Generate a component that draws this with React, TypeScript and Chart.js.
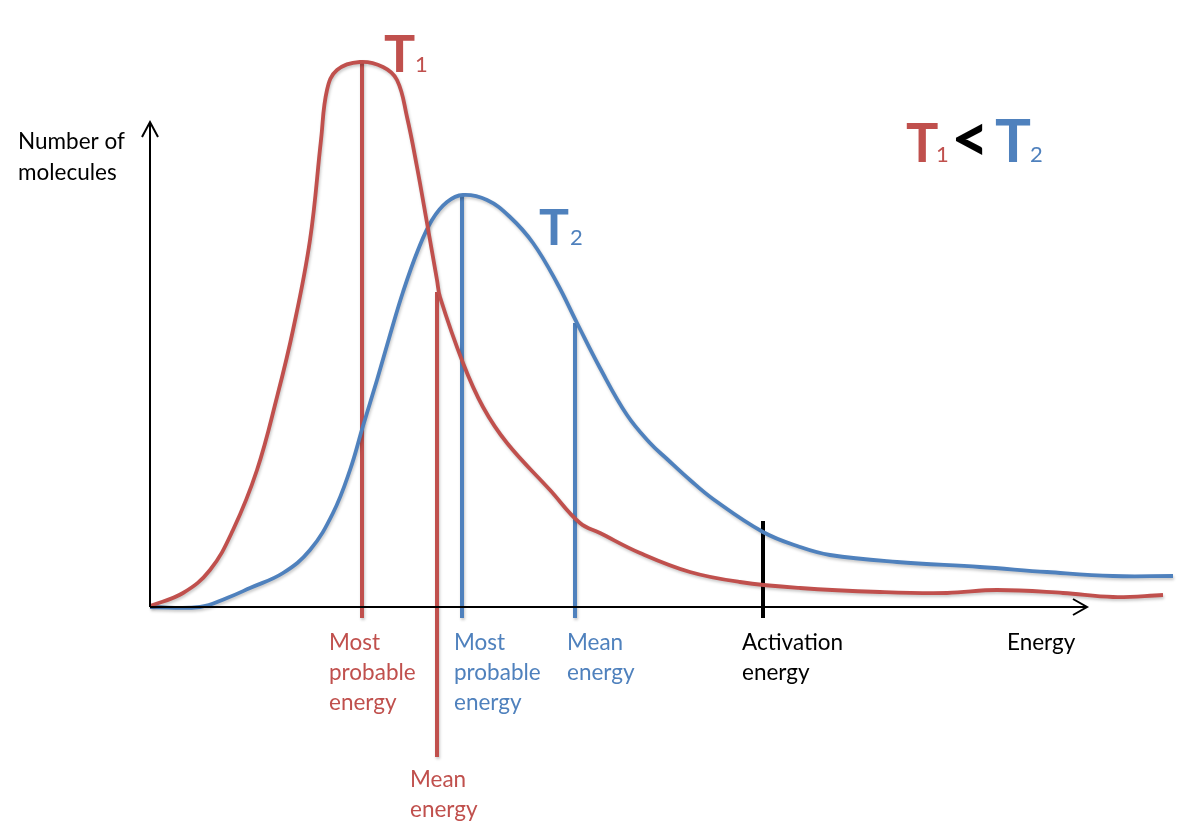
import React, { useEffect, useRef } from "react";
import { Chart, registerables } from "chart.js";

Chart.register(...registerables);

// Energy (x) and number of molecules (y), in chart units
const t1Energy = [0, 33, 60, 83, 107, 127, 143, 160, 171, 177, 187, 210, 233, 247, 257, 267, 277, 287, 290, 313, 333, 357, 400, 430, 450, 490, 540, 590, 650, 730, 797, 847, 913, 963, 1013];
const t1Count = [1, 14, 37, 77, 137, 210, 277, 367, 467, 517, 537, 545, 540, 527, 490, 440, 384, 327, 310, 244, 200, 164, 117, 84, 74, 54, 35, 25, 19, 15, 14, 17, 14, 10, 12];

const t2Energy = [0, 50, 77, 100, 133, 160, 183, 200, 213, 227, 240, 253, 268, 282, 297, 313, 337, 360, 383, 407, 427, 450, 477, 500, 517, 540, 563, 613, 650, 680, 747, 830, 897, 963, 1023];
const t2Count = [0, 0, 9, 19, 34, 57, 94, 137, 181, 227, 272, 315, 357, 387, 405, 412, 407, 390, 364, 324, 284, 239, 192, 164, 148, 127, 108, 75, 60, 52, 45, 40, 35, 31, 31];

// Marker energies and their line extents
const markerNames = ["T1 most probable", "T1 mean", "T2 most probable", "T2 mean", "Activation energy"];
const markerEnergy = [212, 287, 312, 425, 613];
const markerLow = [-11, -150, -11, -11, -11];
const markerHigh = [545, 315, 412, 284, 86];

// Axes
const yAxisTop = 485;
const xAxisEnd = 937;

const RED = "#C0504D";
const BLUE = "#4F81BD";
const BLACK = "#000000";
const FONT = "Lato, 'Open Sans', sans-serif";

type Txt = { t: string; x: number; y: number; c: string; f: string };

const labels: Txt[] = [
  { t: "Number of", x: -132, y: 458, c: BLACK, f: `22.5px ${FONT}` },
  { t: "molecules", x: -132, y: 427, c: BLACK, f: `22.5px ${FONT}` },
  { t: "Most", x: 179, y: -43, c: RED, f: `22.5px ${FONT}` },
  { t: "probable", x: 179, y: -73, c: RED, f: `22.5px ${FONT}` },
  { t: "energy", x: 179, y: -103, c: RED, f: `22.5px ${FONT}` },
  { t: "Mean", x: 260, y: -180, c: RED, f: `22.5px ${FONT}` },
  { t: "energy", x: 260, y: -210, c: RED, f: `22.5px ${FONT}` },
  { t: "Most", x: 304, y: -43, c: BLUE, f: `22.5px ${FONT}` },
  { t: "probable", x: 304, y: -73, c: BLUE, f: `22.5px ${FONT}` },
  { t: "energy", x: 304, y: -103, c: BLUE, f: `22.5px ${FONT}` },
  { t: "Mean", x: 417, y: -43, c: BLUE, f: `22.5px ${FONT}` },
  { t: "energy", x: 417, y: -73, c: BLUE, f: `22.5px ${FONT}` },
  { t: "Activation", x: 592, y: -43, c: BLACK, f: `22.5px ${FONT}` },
  { t: "energy", x: 592, y: -73, c: BLACK, f: `22.5px ${FONT}` },
  { t: "Energy", x: 857, y: -43, c: BLACK, f: `22.5px ${FONT}` },
  // curve names
  { t: "T", x: 234, y: 535, c: RED, f: `bold 52px ${FONT}` },
  { t: "1", x: 265, y: 535, c: RED, f: `22px ${FONT}` },
  { t: "T", x: 389, y: 362, c: BLUE, f: `bold 50px ${FONT}` },
  { t: "2", x: 420, y: 362, c: BLUE, f: `22px ${FONT}` },
  // T1 < T2
  { t: "T", x: 756, y: 445, c: RED, f: `bold 54px ${FONT}` },
  { t: "1", x: 786, y: 445, c: RED, f: `22px ${FONT}` },
  { t: "<", x: 801, y: 445, c: BLACK, f: `bold 66px ${FONT}` },
  { t: "T", x: 845, y: 445, c: BLUE, f: `bold 60px ${FONT}` },
  { t: "2", x: 880, y: 445, c: BLUE, f: `22px ${FONT}` },
];

const pts = (xs: number[], ys: number[]) => xs.map((x, i) => ({ x, y: ys[i] }));

const shadowPlugin = {
  id: "softShadow",
  beforeDatasetDraw(chart: any, args: any) {
    const ds = chart.data.datasets[args.index] as any;
    if (ds.shadow) {
      const ctx = chart.ctx;
      ctx.save();
      ctx.shadowColor = "rgba(0,0,0,0.22)";
      ctx.shadowBlur = 3;
      ctx.shadowOffsetX = 1;
      ctx.shadowOffsetY = 2;
    }
  },
  afterDatasetDraw(chart: any, args: any) {
    const ds = chart.data.datasets[args.index] as any;
    if (ds.shadow) chart.ctx.restore();
  },
};

const textPlugin = {
  id: "texts",
  afterDraw(chart: any) {
    const ctx = chart.ctx;
    const xs = chart.scales.x;
    const ys = chart.scales.y;
    ctx.save();
    ctx.textAlign = "left";
    ctx.textBaseline = "alphabetic";
    for (const l of labels) {
      ctx.font = l.f;
      ctx.fillStyle = l.c;
      ctx.fillText(l.t, xs.getPixelForValue(l.x), ys.getPixelForValue(l.y));
    }
    ctx.restore();
  },
};

export default function App() {
  const ref = useRef<HTMLCanvasElement>(null);
  useEffect(() => {
    if (!ref.current) return;
    const line = (data: any[], color: string, width: number, extra: any = {}) => ({
      data,
      borderColor: color,
      backgroundColor: color,
      borderWidth: width,
      pointRadius: 0,
      showLine: true,
      fill: false,
      tension: 0,
      borderCapStyle: "butt",
      borderJoinStyle: "round",
      ...extra,
    });
    const markerColors = [RED, RED, BLUE, BLUE, BLACK];
    const datasets: any[] = [
      // axes
      line([{ x: 0, y: 0 }, { x: 0, y: yAxisTop }], BLACK, 2),
      line([{ x: -8, y: yAxisTop - 15 }, { x: 0, y: yAxisTop }, { x: 8, y: yAxisTop - 15 }], BLACK, 2, { borderJoinStyle: "miter" }),
      line([{ x: 0, y: 0 }, { x: xAxisEnd, y: 0 }], BLACK, 2),
      line([{ x: xAxisEnd - 14, y: 8 }, { x: xAxisEnd, y: 0 }, { x: xAxisEnd - 14, y: -8 }], BLACK, 2, { borderJoinStyle: "miter" }),
      // curves
      line(pts(t1Energy, t1Count), RED, 3.8, { tension: 0.4, shadow: true, label: "T1" }),
      line(pts(t2Energy, t2Count), BLUE, 3.8, { tension: 0.4, shadow: true, label: "T2" }),
    ];
    markerEnergy.forEach((e, i) => {
      datasets.push(
        line(
          [{ x: e, y: markerLow[i] }, { x: e, y: markerHigh[i] }],
          markerColors[i],
          4,
          { shadow: i < 4, label: markerNames[i] }
        )
      );
    });
    const chart = new Chart(ref.current, {
      type: "scatter",
      data: { datasets },
      options: {
        animation: false,
        responsive: false,
        devicePixelRatio: 1,
        layout: { padding: 0, autoPadding: false } as any,
        plugins: { legend: { display: false }, tooltip: { enabled: false } },
        events: [],
        datasets: { scatter: { clip: false } as any },
        scales: {
          x: { type: "linear", min: -150, max: 1031, display: false },
          y: { type: "linear", min: -232, max: 607, display: false },
        },
      },
      plugins: [shadowPlugin, textPlugin],
    });
    return () => chart.destroy();
  }, []);
  return (
    <div style={{ position: "fixed", left: 0, top: 0, width: 1181, height: 839, background: "#fff" }}>
      <canvas ref={ref} width={1181} height={839} />
    </div>
  );
}
